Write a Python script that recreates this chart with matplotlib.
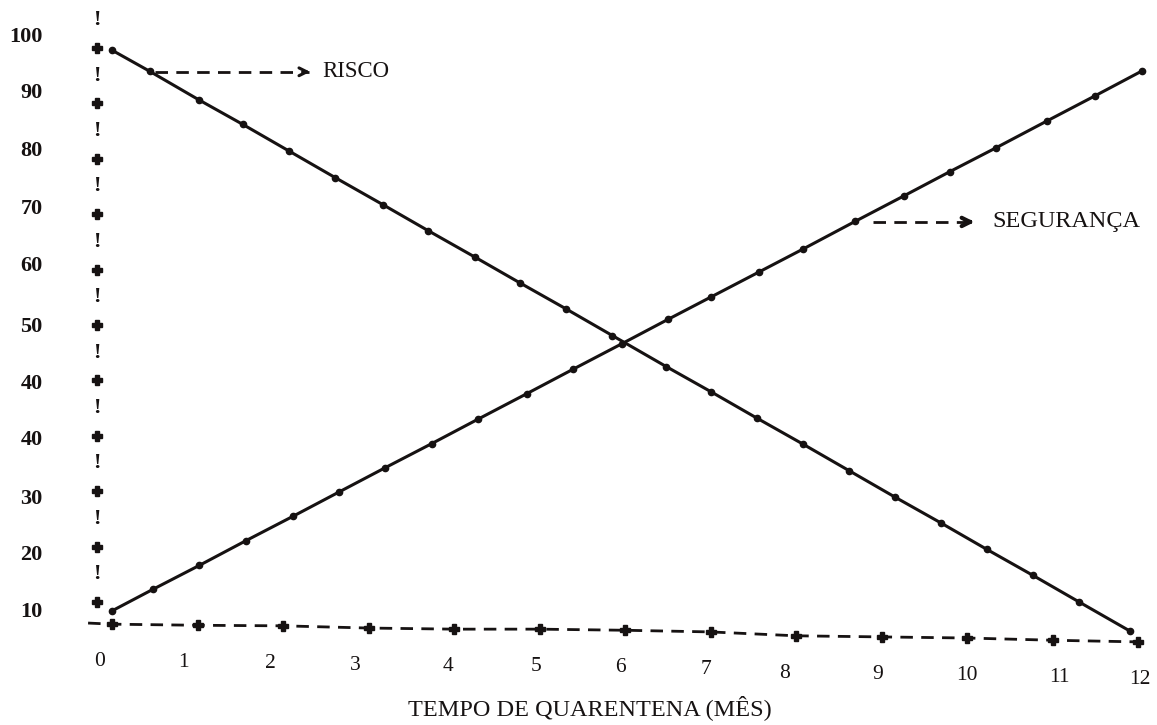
import numpy as np
import matplotlib.pyplot as plt

plt.rcParams['font.family'] = ['Liberation Serif', 'DejaVu Serif']

# months at each marker along the lines
risco_x = [0, 0.44, 1.02, 1.53, 2.07, 2.61, 3.17, 3.70, 4.25, 4.77, 5.31, 5.85,
           6.48, 7.01, 7.54, 8.08, 8.62, 9.16, 9.69, 10.23, 10.77, 11.31, 11.91]
risco_y = [99.6, 95.8, 90.6, 86.2, 81.4, 76.6, 71.7, 67.0, 62.2, 57.6, 52.9, 48.1,
           42.5, 37.9, 33.2, 28.5, 23.7, 18.9, 14.3, 9.5, 4.8, 0.0, -5.3]

seguranca_x = [0, 0.48, 1.02, 1.57, 2.12, 2.66, 3.19, 3.74, 4.28, 4.85, 5.39, 5.96,
               6.50, 7.01, 7.57, 8.08, 8.69, 9.26, 9.80, 10.34, 10.93, 11.50, 12.05]
seguranca_y = [-1.6, 2.3, 6.6, 11.1, 15.5, 19.9, 24.2, 28.6, 33.0, 37.6, 42.0, 46.6,
               51.0, 55.1, 59.6, 63.7, 68.7, 73.3, 77.7, 82.0, 86.8, 91.4, 95.9]

# hand drawn axes
months = np.arange(0, 13)
base_y = [-4.0, -4.2, -4.3, -4.7, -4.9, -4.9, -5.1, -5.4, -6.1, -6.3, -6.5, -6.9, -7.2]
month_labels = [str(m) for m in months]
month_label_x = [-0.14, 0.84, 1.85, 2.85, 3.93, 4.96, 5.95, 6.95, 7.86, 8.95, 10.0, 11.08, 12.02]

plus_y = np.arange(100, -1, -10)
bang_y = np.arange(105, 0, -10)
ylabels = ['100', '90', '80', '70', '60', '50', '40', '40', '30', '20', '10']
ylabel_pos = [102, 91.9, 81.4, 70.9, 60.6, 49.6, 39.4, 29.2, 18.6, 8.5, -1.8]

ink = '#161212'

fig = plt.figure(figsize=(11.57, 7.25), dpi=100)
ax = fig.add_axes([0, 0, 1, 1])
ax.set_xlim(-1.31, 12.22)
ax.set_ylim(-22.2, 108.66)
ax.axis('off')

# vertical axis made of '+' and '!'
ax.plot(np.full(len(plus_y), -0.175), plus_y, ls='none', marker='P', ms=6.5, color=ink)
for yy in bang_y:
    ax.text(-0.175, yy, '!', fontsize=16, fontweight='bold', color=ink, ha='center', va='center')
for lab, yy in zip(ylabels, ylabel_pos):
    ax.text(-0.81, yy, lab, fontsize=16, fontweight='bold', color=ink, ha='right', va='center')

# horizontal dashed axis
ax.plot([-0.28] + list(months) + [12.06], [-3.8] + base_y + [-7.3], color=ink, lw=2,
        dashes=(4.5, 3))
ax.plot(months, base_y, ls='none', marker='P', ms=6.5, color=ink)
for lab, xx, yy in zip(month_labels, month_label_x, base_y):
    ax.text(xx, yy - 6.8, lab, fontsize=15.5, color=ink, ha='center', va='center')
ax.text(5.59, -19.1, 'TEMPO DE QUARENTENA (MÊS)', fontsize=17.5, color=ink, ha='center', va='center')

# the two lines
ax.plot(risco_x, risco_y, color=ink, lw=2.2, marker='o', ms=4.5)
ax.plot(seguranca_x, seguranca_y, color=ink, lw=2.2, marker='o', ms=4.5)

# labels with dashed arrows
ax.plot([0.5, 2.3], [95.7, 95.7], color=ink, lw=2, dashes=(4.5, 3))
ax.annotate('', xy=(2.35, 95.7), xytext=(2.2, 95.7),
            arrowprops=dict(arrowstyle='->', lw=2.2, color=ink, mutation_scale=14))
ax.text(2.46, 95.7, 'RISCO', fontsize=16.5, color=ink, ha='left', va='center')

ax.plot([8.9, 10.05], [68.6, 68.6], color=ink, lw=2, dashes=(4.5, 3))
ax.annotate('', xy=(10.12, 68.6), xytext=(9.95, 68.6),
            arrowprops=dict(arrowstyle='->', lw=3, color=ink, mutation_scale=15))
ax.text(10.30, 68.6, 'SEGURANÇA', fontsize=17.5, color=ink, ha='left', va='center')

plt.savefig('out.png', dpi=100)
